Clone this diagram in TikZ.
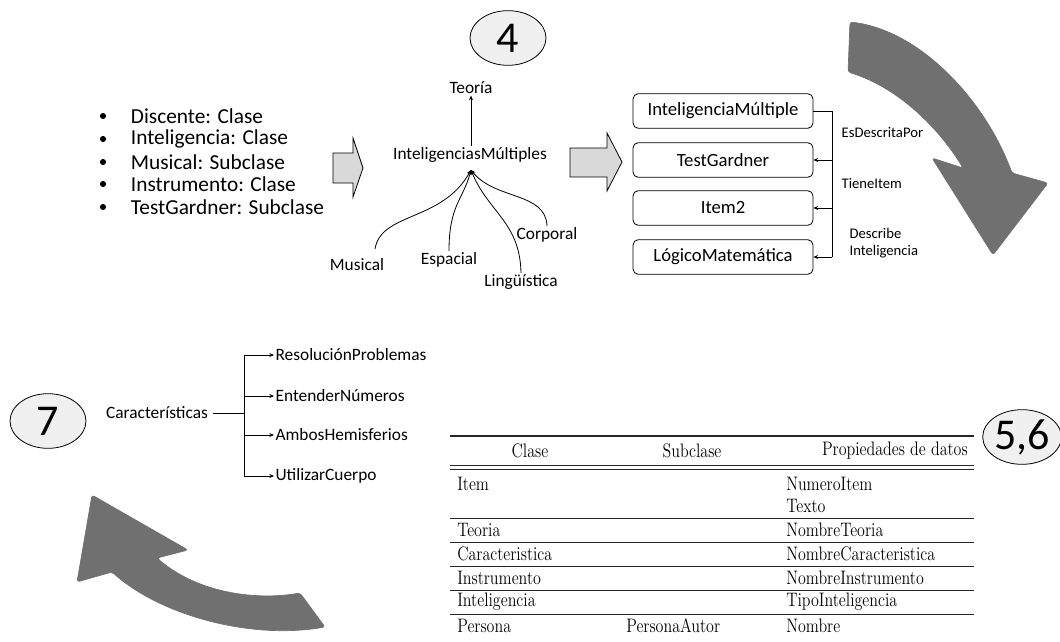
\documentclass[tikz,border=0pt]{standalone}
\usepackage{fontspec}
\usepackage{graphicx}
\setsansfont{Carlito}
\renewcommand{\familydefault}{\sfdefault}
\usetikzlibrary{arrows.meta,shapes.geometric}
\definecolor{bigarrow}{RGB}{112,112,112}
\definecolor{blockfill}{RGB}{217,217,217}
\definecolor{ellfill}{RGB}{240,240,240}
\newcommand{\tcell}[1]{\scalebox{1}[1.22]{\rmfamily\fontsize{12}{14}\selectfont #1}}
\begin{document}
\begin{tikzpicture}[x=0.75pt,y=-0.75pt,
  bul/.style={circle,fill=black,inner sep=0pt,minimum size=4.6pt},
  itm/.style={anchor=west,inner sep=2pt,font=\fontsize{16}{18}\selectfont},
  lbl/.style={inner sep=1pt,font=\fontsize{13}{15}\selectfont},
  small/.style={inner sep=1pt,font=\fontsize{11}{13}\selectfont},
  ell/.style={draw,ellipse,fill=ellfill,line width=0.6pt,inner sep=0pt,minimum width=57pt,minimum height=41pt,font=\fontsize{33}{36}\selectfont},
  box/.style={draw,rounded corners=4pt,line width=0.6pt,minimum width=135pt,minimum height=26pt,inner sep=0pt,font=\fontsize{14}{16}\selectfont},
  blk/.style={draw,fill=blockfill,line width=0.6pt},
  big/.style={fill=bigarrow,draw=bigarrow,line width=0.5pt,rounded corners=2pt},
  ln/.style={line width=0.6pt},
  arr/.style={-{Stealth[length=3.5pt,width=3pt]}},
  rule/.style={line width=0.7pt,draw=black!85},
  tl/.style={anchor=west,inner sep=0pt},
  tc/.style={inner sep=0pt}]
\useasboundingbox (0,0) rectangle (1060,642);

% ---------- bullet list
\node[bul] (bu1) at (103,116) {};
\node[bul] (bu2) at (103,139) {};
\node[bul] (bu3) at (103,162) {};
\node[bul] (bu4) at (103,184) {};
\node[bul] (bu5) at (103,207) {};
\node[itm] (li1) at (128,116) {Discente: Clase};
\node[itm] (li2) at (128,139) {Inteligencia: Clase};
\node[itm] (li3) at (128,162) {Musical: Subclase};
\node[itm] (li4) at (128,184) {Instrumento: Clase};
\node[itm] (li5) at (128,207) {TestGardner: Subclase};

% ---------- block arrows
\draw[blk] (333,153) -- (353,153) -- (353,138) -- (363,168) -- (353,197) -- (353,183) -- (333,183) -- cycle;
\draw[blk] (570,148) -- (607,148) -- (607,133) -- (622,162) -- (607,191) -- (607,177) -- (570,177) -- cycle;

% ---------- step 4
\node[ell] (e4) at (508,38) {4};
\node[lbl] (teo) at (471,88) {Teoría};
\node[lbl] (im) at (470,155) {InteligenciasMúltiples};
\draw[ln,arr] (im.north -| teo) -- (teo.south);
\coordinate (fan) at (471,170);
\node[lbl] (mus) at (357,265) {Musical};
\node[lbl] (esp) at (449,260) {Espacial};
\node[lbl] (lin) at (521,282) {Lingüística};
\node[lbl] (cor) at (547,235) {Corporal};
\draw[ln,arr] (375,249) .. controls (381,212) and (442,222) .. (fan);
\draw[ln,arr] (esp.north) .. controls (449,205) and (463,200) .. (fan);
\draw[ln,arr] (lin.north) .. controls (520,222) and (488,212) .. (fan);
\draw[ln,arr] (cor.north) .. controls (546,192) and (495,200) .. (fan);

% ---------- boxes
\node[box] (b1) at (723,111) {InteligenciaMúltiple};
\node[box] (b2) at (723,160) {TestGardner};
\node[box] (b3) at (723,208) {Item2};
\node[box] (b4) at (723,257) {LógicoMatemática};
\coordinate (vx) at (832,111);
\draw[ln] (b1.east) -- (vx) -- (vx |- b4.east);
\draw[ln,arr] (vx |- b2.east) -- (b2.east);
\draw[ln,arr] (vx |- b3.east) -- (b3.east);
\draw[ln,arr] (vx |- b4.east) -- (b4.east);
\node[small,anchor=west] (r1) at (840,133) {EsDescritaPor};
\node[small,anchor=west] (r2) at (840,184) {TieneItem};
\node[small,anchor=west,align=left] (r3) at (848,243) {Describe\\Inteligencia};

% ---------- big arrows
\path[big] (850,22) .. controls (920,30) and (985,100) .. (1012,173) -- (1048,183) -- (993,255) -- (932,158) -- (963,168) .. controls (940,130) and (900,88) .. (848,72) -- cycle;
\path[big] (325,627) .. controls (250,640) and (160,615) .. (112,572) -- (77,582) -- (92,495) -- (188,550) -- (157,558) .. controls (200,595) and (260,600) .. (300,593) -- cycle;

% ---------- step 7
\node[ell] (e7) at (48,421) {7};
\node[lbl] (car) at (157,413) {Características};
\coordinate (ctop) at (244,355);
\coordinate (cbot) at (244,476);
\node[lbl,anchor=west] (c1) at (274,355) {ResoluciónProblemas};
\node[lbl,anchor=west] (c2) at (274,396) {EntenderNúmeros};
\node[lbl,anchor=west] (c3) at (274,435) {AmbosHemisferios};
\node[lbl,anchor=west] (c4) at (274,476) {UtilizarCuerpo};
\draw[ln] (car.east) ++(4,0) -- (car.east -| ctop);
\draw[ln] (ctop) -- (cbot);
\draw[ln,arr] (ctop) -- (c1.west);
\draw[ln,arr] (c2.west -| ctop) -- (c2.west);
\draw[ln,arr] (c3.west -| ctop) -- (c3.west);
\draw[ln,arr] (cbot) -- (c4.west);

% ---------- table 5,6
\node[ell] (e56) at (1022,437) {5,6};
\draw[rule,line width=1pt] (450,436) -- (974,436);
\node[tc] (h1) at (530,451) {\tcell{Clase}};
\node[tc] (h2) at (692,451) {\tcell{Subclase}};
\node[tc,anchor=east] (h3) at (968,451) {\tcell{Propiedades de datos}};
\draw[rule] (450,465) -- (974,465);
\node[tl] (a1) at (457,484) {\tcell{Item}};
\node[tl] (p1) at (786,484) {\tcell{NumeroItem}};
\node[tl] (p1b) at (786,506) {\tcell{Texto}};
\draw[rule] (450,469) -- (974,469);
\draw[rule] (450,518) -- (974,518);
\node[tl] (a2) at (457,530) {\tcell{Teoria}};
\node[tl] (p2) at (786,530) {\tcell{NombreTeoria}};
\draw[rule] (450,542) -- (974,542);
\node[tl] (a3) at (457,554) {\tcell{Caracteristica}};
\node[tl] (p3) at (786,554) {\tcell{NombreCaracteristica}};
\draw[rule] (450,566) -- (974,566);
\node[tl] (a4) at (457,578) {\tcell{Instrumento}};
\node[tl] (p4) at (786,578) {\tcell{NombreInstrumento}};
\draw[rule] (450,590) -- (974,590);
\node[tl] (a5) at (457,602) {\tcell{Inteligencia}};
\node[tl] (p5) at (786,602) {\tcell{TipoInteligencia}};
\draw[rule] (450,614) -- (974,614);
\node[tl] (a6) at (457,626) {\tcell{Persona}};
\node[tl] (s6) at (626,626) {\tcell{PersonaAutor}};
\node[tl] (p6) at (786,626) {\tcell{Nombre}};
\end{tikzpicture}
\end{document}
